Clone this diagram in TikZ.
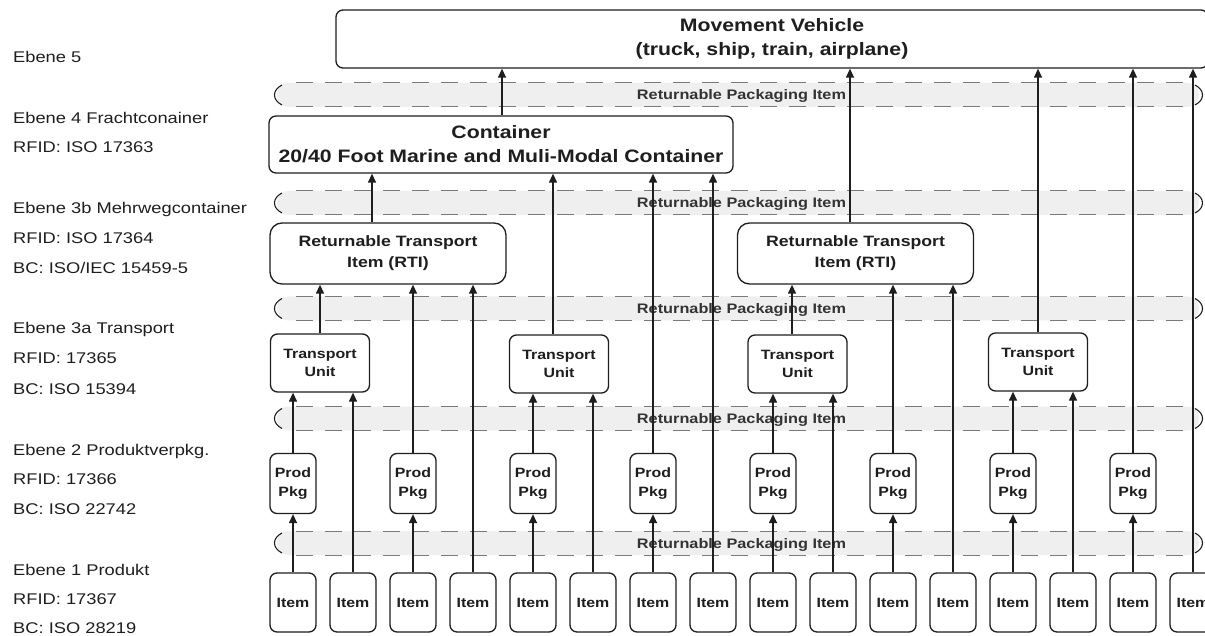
\documentclass[tikz,border=0pt]{standalone}
\usepackage{fontspec}
\setmainfont{Liberation Sans}[FakeStretch=1.18]
\usetikzlibrary{arrows.meta}
\definecolor{ink}{HTML}{1E1E1E}
\definecolor{bandfill}{HTML}{EFEFEF}
\definecolor{dashcol}{HTML}{7A7A7A}
\begin{document}
\begin{tikzpicture}[x=1pt,y=-1pt,
  box/.style={draw=ink, line width=1.3pt, fill=white, rounded corners=7pt, align=center, inner sep=0pt, text=ink},
  itembox/.style={box, minimum width=46pt, minimum height=59pt, font=\bfseries\fontsize{13.5}{18}\selectfont},
  pkgbox/.style={box, minimum width=46pt, minimum height=60pt, font=\bfseries\fontsize{13.5}{19}\selectfont},
  tubox/.style={box, minimum width=99pt, minimum height=58pt, font=\bfseries\fontsize{13.5}{18}\selectfont},
  rtibox/.style={box, minimum width=236pt, minimum height=61pt, rounded corners=12pt, font=\bfseries\fontsize{15}{21}\selectfont},
  bigbox/.style={box, font=\bfseries\fontsize{18}{24}\selectfont},
  lbl/.style={anchor=base west, inner sep=0pt, font=\fontsize{15.5}{18}\selectfont, text=ink},
  bandtext/.style={anchor=base, inner sep=0pt, font=\bfseries\fontsize{13.8}{16}\selectfont, text=black!80},
  conn/.style={draw=ink, line width=1.3pt, -{Triangle[length=9pt,width=8pt]}},
]
\useasboundingbox (0,0) rectangle (1205,636);
\clip (0,0) rectangle (1205,636);

% left level labels
\node[lbl] (l5)  at (13,62.5)  {Ebene 5};
\node[lbl] (l4a) at (13,123.5) {Ebene 4 Frachtconainer};
\node[lbl] (l4b) at (13,152.5) {RFID: ISO 17363};
\node[lbl] (l3ba) at (13,213.5) {Ebene 3b Mehrwegcontainer};
\node[lbl] (l3bb) at (13,243.5) {RFID: ISO 17364};
\node[lbl] (l3bc) at (13,273.5) {BC: ISO/IEC 15459-5};
\node[lbl] (l3aa) at (13,333.5) {Ebene 3a Transport};
\node[lbl] (l3ab) at (13,363.5) {RFID: 17365};
\node[lbl] (l3ac) at (13,394.5) {BC: ISO 15394};
\node[lbl] (l2a) at (13,455.5) {Ebene 2 Produktverpkg.};
\node[lbl] (l2b) at (13,484.5) {RFID: 17366};
\node[lbl] (l2c) at (13,514.5) {BC: ISO 22742};
\node[lbl] (l1a) at (13,575.5) {Ebene 1 Produkt};
\node[lbl] (l1b) at (13,604.5) {RFID: 17367};
\node[lbl] (l1c) at (13,633.5) {BC: ISO 28219};

% returnable packaging bands
\foreach \yc [count=\k] in {95,203,308.5,418.5,543}{
  \fill[bandfill, rounded corners=11pt] (277,\yc-12) rectangle (1199,\yc+12);
  \draw[dashcol, line width=1pt, dash pattern=on 17pt off 12pt] (296,\yc-12) -- (1192,\yc-12);
  \draw[dashcol, line width=1pt, dash pattern=on 17pt off 12pt] (296,\yc+12) -- (1192,\yc+12);
  \draw[ink, line width=1.1pt] (282,\yc-10) .. controls (272,\yc-5) and (272,\yc+5) .. (282,\yc+10);
  \draw[ink, line width=1.1pt] (1195,\yc-10) .. controls (1205,\yc-5) and (1205,\yc+5) .. (1195,\yc+10);
  \node[bandtext] (band\k) at (741.5,\yc+5) {Returnable Packaging Item};
}

% level 5
\node[bigbox, minimum width=872pt, minimum height=58pt] (mv) at (772,39)
  {Movement Vehicle\\(truck, ship, train, airplane)};
% level 4
\node[bigbox, minimum width=464pt, minimum height=57pt] (cont) at (501,144.5)
  {Container\\20/40 Foot Marine and Muli-Modal Container};
% level 3b
\node[rtibox] (rti1) at (388,253.5) {Returnable Transport\\Item (RTI)};
\node[rtibox] (rti2) at (855.5,253.5) {Returnable Transport\\Item (RTI)};
% level 3a
\node[tubox] (tu1) at (320,363) {Transport\\Unit};
\node[tubox] (tu2) at (559,364) {Transport\\Unit};
\node[tubox] (tu3) at (797.5,364) {Transport\\Unit};
\node[tubox] (tu4) at (1038,362) {Transport\\Unit};
% level 2
\foreach \k in {0,2,...,14}{
  \node[pkgbox] (pp\k) at (293+60*\k,483.5) {Prod\\Pkg};
}
% level 1
\foreach \k in {0,...,15}{
  \node[itembox] (i\k) at (293+60*\k,602.5) {Item};
}

% items to product packages
\foreach \k in {0,2,...,14}{
  \draw[conn] (i\k.north) -- (pp\k.south);
}
% items directly to higher levels
\foreach \k/\t in {1/tu1,3/rti1,5/tu2,7/cont,9/tu3,11/rti2,13/tu4,15/mv}{
  \draw[conn] (i\k.north) -- (i\k.north |- \t.south);
}
% product packages to higher levels
\foreach \k/\t in {0/tu1,2/rti1,4/tu2,6/cont,8/tu3,10/rti2,12/tu4,14/mv}{
  \draw[conn] (pp\k.north) -- (pp\k.north |- \t.south);
}
% transport units
\draw[conn] (tu1.north) -- (tu1.north |- rti1.south);
\draw[conn] ([xshift=-6pt]tu2.north) -- ([xshift=-6pt]tu2.north |- cont.south);
\draw[conn] ([xshift=-5.5pt]tu3.north) -- ([xshift=-5.5pt]tu3.north |- rti2.south);
\draw[conn] (tu4.north) -- (tu4.north |- mv.south);
% RTIs
\draw[conn] ([xshift=-16pt]rti1.north) -- ([xshift=-16pt]rti1.north |- cont.south);
\draw[conn] ([xshift=-5.5pt]rti2.north) -- ([xshift=-5.5pt]rti2.north |- mv.south);
% container
\draw[conn] ([xshift=1pt]cont.north) -- ([xshift=1pt]cont.north |- mv.south);
\end{tikzpicture}
\end{document}
